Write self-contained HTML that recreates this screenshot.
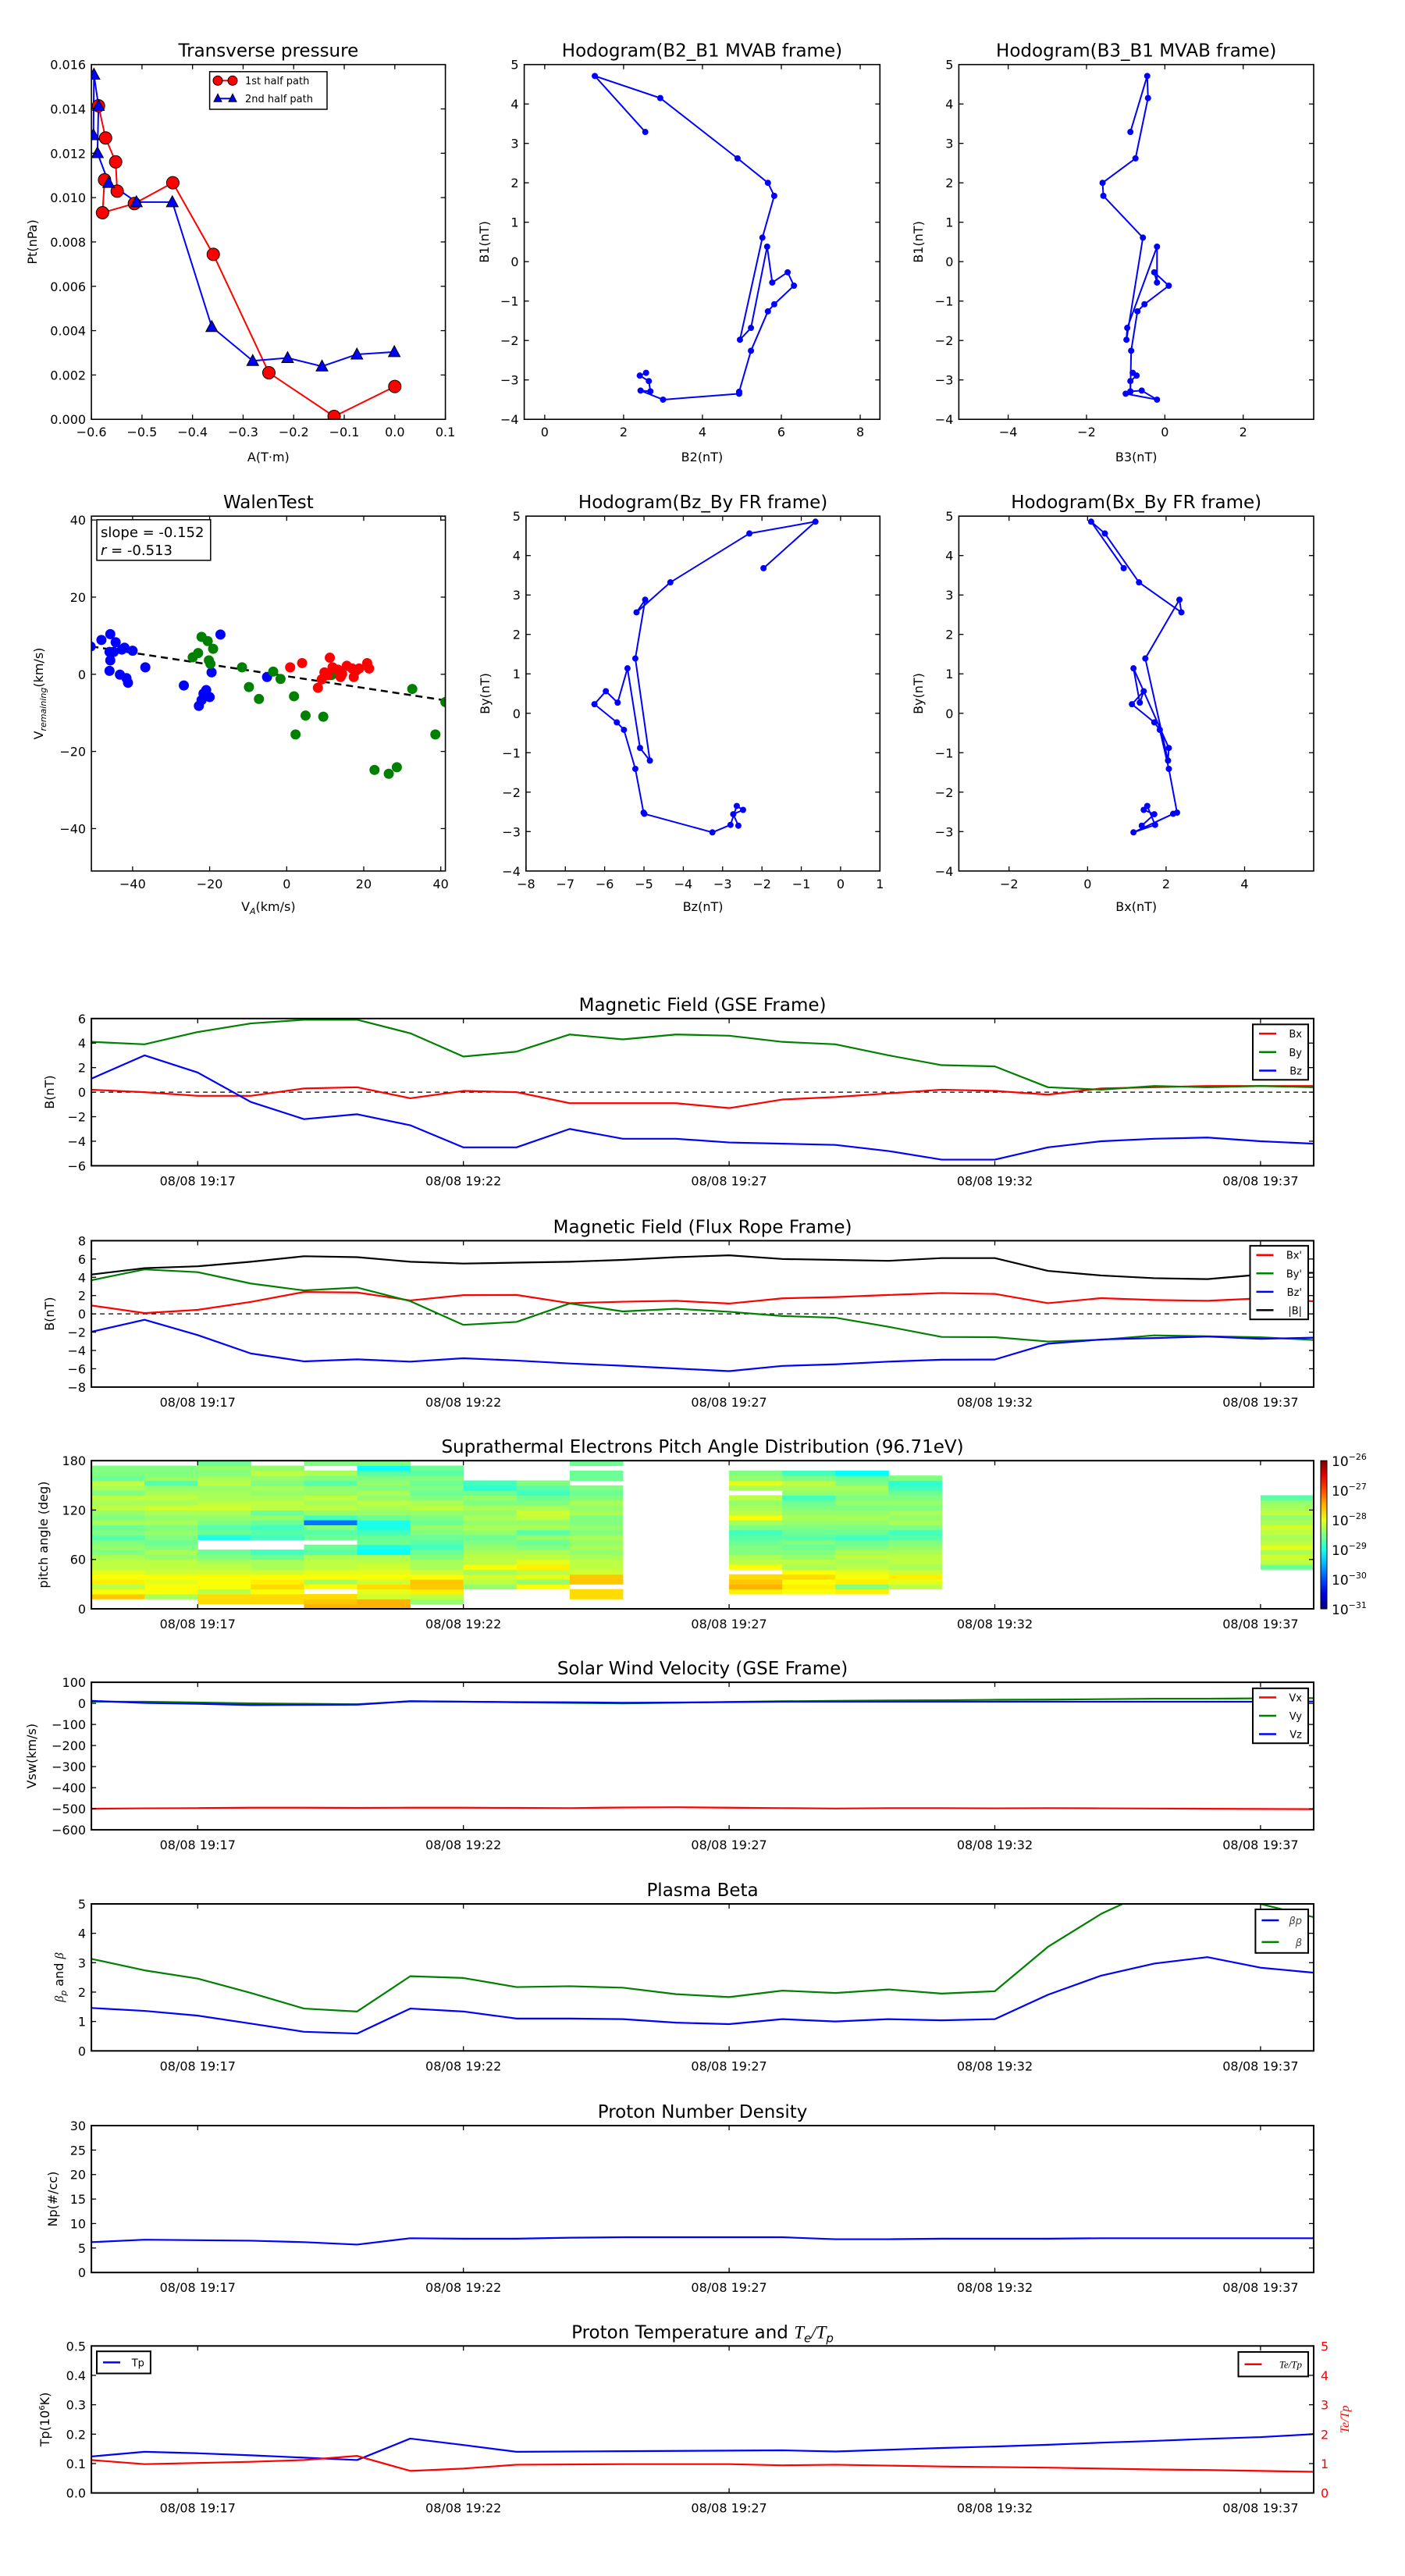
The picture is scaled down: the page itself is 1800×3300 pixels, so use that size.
<!DOCTYPE html>
<html><head><meta charset="utf-8">
<style>
html,body{margin:0;padding:0;background:#fff;}
svg{display:block;font-family:"DejaVu Sans","Liberation Sans",sans-serif;}
</style></head>
<body>
<svg id="chart" xmlns="http://www.w3.org/2000/svg" width="1800" height="3300" viewBox="0 0 1800 3300">
<rect x="0" y="0" width="1800" height="3300" fill="#fff"/>
</svg>
<script>
// ---------- DATA ----------
const tpA1 = [-0.586,-0.572,-0.552,-0.549,-0.574,-0.578,-0.515,-0.439,-0.359,-0.249,-0.120,0.0];
const tpP1 = [0.01414,0.01269,0.01161,0.01029,0.01080,0.00932,0.00973,0.01067,0.00744,0.00210,0.00013,0.00148];
const tpA2 = [-0.596,-0.595,-0.586,-0.588,-0.566,-0.511,-0.440,-0.362,-0.281,-0.212,-0.144,-0.075,-0.001];
const tpP2 = [0.01282,0.01555,0.01414,0.01201,0.01067,0.00980,0.00980,0.00417,0.00264,0.00277,0.00239,0.00293,0.00304];
const mvB2 = [2.55,1.27,2.93,4.89,5.66,5.82,5.52,4.95,5.23,5.64,5.77,6.16,6.32,5.82,5.66,5.23,4.93,4.93,3.0,2.43,2.68,2.64,2.41,2.57];
const mvB1 = [3.29,4.71,4.15,2.62,2.0,1.67,0.61,-1.98,-1.68,0.38,-0.53,-0.27,-0.61,-1.08,-1.26,-2.26,-3.30,-3.35,-3.5,-3.27,-3.29,-3.03,-2.89,-2.82];
const mvB3 = [-0.88,-0.45,-0.43,-0.75,-1.59,-1.57,-0.56,-0.98,-0.96,-0.2,-0.2,-0.27,0.1,-0.52,-0.7,-0.86,-0.88,-1.0,-0.2,-0.59,-0.88,-0.88,-0.72,-0.82];
const wBlueX = [-50.9,-48.1,-45.8,-44.4,-46.0,-44.9,-45.8,-42.8,-42.1,-40.0,-46.0,-43.3,-41.6,-41.2,-36.7,-26.7,-22.8,-22.1,-21.6,-20.9,-20.0,-19.5,-17.2,-5.1];
const wBlueY = [7.2,8.9,10.4,8.3,5.8,5.8,3.6,6.4,6.9,6.1,0.9,-0.1,-1.0,-2.2,1.8,-2.9,-8.2,-6.7,-5.0,-4.1,-5.9,0.5,10.3,-0.7];
const wGreenX = [-24.4,-23.0,-22.1,-20.5,-19.1,-20.2,-19.8,-11.6,-9.8,-7.2,-3.5,-1.6,1.9,2.3,4.9,9.5,11.6,12.1,22.8,26.5,28.6,32.6,38.6,41.2];
const wGreenY = [4.4,5.5,9.7,8.6,6.6,3.6,2.7,1.8,-3.3,-6.4,0.7,-1.2,-5.7,-15.6,-10.7,-11.0,-0.2,0.1,-24.8,-25.8,-24.1,-3.8,-15.6,-7.2];
const wRedX = [0.9,4.0,8.1,9.1,9.8,10.7,11.2,11.9,13.3,14.0,14.4,15.6,17.0,17.4,18.1,18.8,20.9,21.4];
const wRedY = [1.8,2.9,-3.5,-1.3,0.5,-0.2,4.3,1.8,1.2,-0.7,0.1,2.2,1.5,-0.7,1.0,1.5,2.9,1.5];
const walenSlope = -0.152;
const walenIntercept = -0.5;
const minutes = [0,1,2,3,4,5,6,7,8,9,10,11,12,13,14,15,16,17,18,19,20,21,22,23];
const timeTicks = [2,7,12,17,22];
const timeLabels = ["08/08 19:17","08/08 19:22","08/08 19:27","08/08 19:32","08/08 19:37"];
const gseBx = [0.2,0,-0.3,-0.3,0.3,0.4,-0.5,0.1,0,-0.9,-0.9,-0.9,-1.3,-0.6,-0.4,-0.1,0.2,0.1,-0.2,0.3,0.4,0.5,0.5,0.5];
const gseBy = [4.1,3.9,4.9,5.6,5.9,5.9,4.8,2.9,3.3,4.7,4.3,4.7,4.6,4.1,3.9,3.0,2.2,2.1,0.4,0.2,0.5,0.4,0.5,0.4];
const gseBz = [1.1,3.0,1.6,-0.8,-2.2,-1.8,-2.7,-4.5,-4.5,-3.0,-3.8,-3.8,-4.1,-4.2,-4.3,-4.8,-5.5,-5.5,-4.5,-4.0,-3.8,-3.7,-4.0,-4.2];
const frBx = [0.92,0.09,0.44,1.31,2.39,2.34,1.47,2.05,2.07,1.17,1.33,1.43,1.13,1.70,1.84,2.07,2.28,2.18,1.17,1.72,1.52,1.43,1.70,1.38];
const frBy = [3.68,4.86,4.56,3.32,2.56,2.88,1.39,-1.20,-0.88,1.14,0.27,0.56,0.23,-0.23,-0.42,-1.41,-2.52,-2.55,-3.02,-2.83,-2.35,-2.45,-2.56,-2.85];
const frBz = [-1.96,-0.64,-2.32,-4.33,-5.19,-4.97,-5.22,-4.85,-5.10,-5.42,-5.67,-5.97,-6.26,-5.69,-5.51,-5.22,-5.01,-4.99,-3.26,-2.80,-2.64,-2.48,-2.73,-2.60];
const frBt = [4.3,5.0,5.2,5.7,6.3,6.2,5.7,5.5,5.6,5.7,5.9,6.2,6.4,6.0,5.9,5.8,6.1,6.1,4.7,4.2,3.9,3.8,4.3,4.5];
const padTimes = [0,1,2,3,4,5,6,7,8,9,12,13,14,15,22];
const padCol0 = [null,null,-27.6,-27.9,-28.2,-27.8,-27.9,-28.0,-28.2,-28.2,-28.3,-28.5,-28.4,-28.5,-28.7,-28.5,-28.6,-28.3,-28.5,-28.4,-28.2,-28.3,-28.2,-28.5,-28.3,-28.2,-28.6,-28.5,-28.5,null];
const padCol1 = [null,null,-28.3,-27.9,-27.9,-28.0,-27.9,-28.1,-28.2,-28.2,-28.4,-28.3,-28.5,-28.6,-28.5,-28.4,-28.5,-28.3,-28.4,-28.3,-28.1,-28.3,-28.2,-28.3,-28.4,-28.7,-28.4,-28.5,-28.5,null];
const padCol2 = [null,-27.7,-27.7,-28.2,-27.9,-27.9,-27.9,-28.1,-28.2,-28.3,-28.5,-28.6,null,null,-29.0,-28.6,-28.7,-28.5,-28.4,-28.3,-28.1,-28.2,-28.3,-28.3,-28.4,-28.2,-28.3,-28.5,-28.4,-28.6];
const padCol3 = [null,-27.7,-27.7,-27.9,-27.7,-27.8,-27.9,-28.1,-28.3,-28.3,-28.6,-28.8,null,null,-28.8,-28.7,-28.8,-28.6,-28.4,-28.6,-28.2,-28.2,-28.3,-28.4,-28.3,-28.5,-28.4,-28.2,-28.4,null];
const padCol4 = [-27.5,-27.6,-27.7,null,-27.9,-28.3,-27.9,-28.0,-28.2,-28.2,-28.3,-28.7,-28.6,null,-28.6,-28.7,-28.5,-29.8,-28.8,-28.4,-28.2,-28.3,-28.2,-28.4,-28.4,-28.7,-28.5,-28.3,null,-28.5];
const padCol5 = [-27.5,-27.5,-28.1,-28.0,-27.7,-28.1,-27.9,-28.0,-28.1,-28.2,-28.3,-29.1,-29.0,-28.6,-28.6,-28.8,-29.0,-29.0,-28.6,-28.4,-28.3,-28.2,-28.4,-28.3,-28.5,-28.4,-28.5,-28.7,-29.1,-28.5];
const padCol6 = [null,-28.4,-28.2,-27.8,-27.6,-27.6,-27.9,-28.1,-28.3,-28.3,-28.5,-28.6,-28.8,-28.7,-28.6,-28.5,-28.4,-28.6,-28.5,-28.4,-28.2,-28.3,-28.5,-28.6,-28.5,-28.6,-28.5,-28.7,-28.6,null];
const padCol7 = [null,null,null,null,-28.4,-28.2,-28.1,-28.3,-27.9,-28.2,-28.2,-28.3,-28.4,-28.5,-28.6,-28.4,-28.3,-28.4,-28.3,-28.4,-28.3,-28.5,-28.4,-28.6,-28.9,-28.8,null,null,null,null];
const padCol8 = [null,null,null,null,-27.9,-28.4,-28.0,-28.2,-27.8,-28.0,-28.2,-28.3,-28.5,-28.6,-28.4,-28.7,-28.3,-28.4,-28.2,-28.1,-28.3,-28.5,-28.6,-28.8,-28.7,-28.5,null,null,null,null];
const padCol9 = [null,null,-27.7,-27.7,null,-27.6,-27.6,-28.1,-28.2,-28.2,-28.3,-28.4,-28.3,-28.4,-28.3,-28.5,-28.4,-28.5,-28.5,-28.3,-28.4,-28.3,-28.5,-28.6,-28.5,null,-28.6,-28.6,null,-28.6];
const padCol12 = [null,null,null,-27.8,-27.5,-27.6,-27.7,null,-27.9,-28.2,-28.3,-28.5,-28.5,-28.6,-28.7,-28.8,-28.5,-28.3,-27.9,-28.2,-28.3,-28.4,-28.2,null,-28.3,-28.0,-28.4,-28.5,null,null];
const padCol13 = [null,null,null,-27.9,-27.8,-27.9,-27.7,-27.9,-28.3,-28.2,-28.4,-28.5,-28.6,-28.5,-28.7,-28.6,-28.5,-28.4,-28.3,-28.4,-28.5,-28.6,-28.8,-28.4,-28.3,-28.2,-28.5,-28.8,null,null];
const padCol14 = [null,null,null,-27.8,-28.5,-27.8,-27.9,-28.0,-28.2,-28.3,-28.2,-28.3,-28.5,-28.6,-28.8,-28.6,-28.5,-28.4,-28.3,-28.4,-28.5,-28.4,-28.5,-28.4,-28.3,-28.5,-28.6,-29.1,null,null];
const padCol15 = [null,null,null,null,-28.2,-28.0,-27.8,-28.1,-28.3,-28.2,-28.2,-28.3,-28.4,-28.5,-28.7,-28.8,-28.5,-28.3,-28.4,-28.3,-28.5,-28.4,-28.5,-28.6,-28.8,-28.9,-28.5,null,null,null];
const padCol22 = [null,null,null,null,null,null,null,null,-28.6,-28.2,-28.1,-28.3,-28.0,-28.2,-28.3,-28.2,-28.1,-28.3,-28.4,-28.2,-28.3,-28.4,-28.7,null,null,null,null,null,null,null];
const padCols = [padCol0,padCol1,padCol2,padCol3,padCol4,padCol5,padCol6,padCol7,padCol8,padCol9,padCol12,padCol13,padCol14,padCol15,padCol22];
const vx = [-500,-498,-497,-495,-495,-496,-495,-495,-496,-497,-494,-493,-495,-497,-499,-497,-497,-498,-497,-498,-499,-500,-501,-502];
const vy = [8,8,4,0,-2,-4,10,8,5,2,0,3,7,10,12,14,15,17,18,20,22,22,24,25];
const vz = [12,2,-2,-8,-7,-6,10,8,6,5,3,4,6,8,8,8,8,8,8,8,8,8,8,9];
const betaP = [1.46,1.36,1.2,0.93,0.65,0.59,1.44,1.34,1.1,1.1,1.08,0.96,0.91,1.08,1.0,1.08,1.04,1.08,1.91,2.56,2.97,3.19,2.83,2.66];
const betaT = [3.13,2.74,2.46,1.97,1.44,1.34,2.54,2.48,2.17,2.2,2.15,1.93,1.83,2.05,1.97,2.09,1.95,2.03,3.54,4.66,5.5,5.8,5.0,4.55];
const np = [6.2,6.7,6.6,6.5,6.2,5.7,7.0,6.9,6.9,7.1,7.2,7.2,7.2,7.2,6.8,6.8,6.9,6.9,6.9,7.0,7.0,7.0,7.0,7.0];
const tp = [0.124,0.14,0.135,0.128,0.12,0.112,0.185,0.163,0.14,0.141,0.142,0.143,0.144,0.145,0.141,0.147,0.153,0.158,0.164,0.171,0.177,0.184,0.19,0.2];
const teTp = [1.12,0.98,1.02,1.06,1.12,1.26,0.75,0.83,0.96,0.97,0.98,0.98,0.98,0.94,0.96,0.93,0.90,0.88,0.86,0.83,0.80,0.78,0.75,0.72];

// ---------- HELPERS ----------
const NS='http://www.w3.org/2000/svg';
const svg=document.getElementById('chart');
let clipId=0;
function mk(tag, attrs, name, parent){
  const el=document.createElementNS(NS,tag);
  for(const k in attrs) el.setAttribute(k,attrs[k]);
  
  
  (parent||svg).appendChild(el);
  return el;
}
function txt(x,y,s,size,anchor,name,extra,parent){
  const a=Object.assign({x:x,y:y,'font-size':size,'text-anchor':anchor||'middle',fill:'#000'},extra||{});
  const t=mk('text',a,name,parent);
  t.textContent=s;
  return t;
}
function fmtMinus(v,d){ const s=v.toFixed(d); return s.replace('-','\u2212'); }
function axes(o){
  const g=mk('g',{},o.name);
  const sx=v=>o.x0+(v-o.xmin)/(o.xmax-o.xmin)*(o.x1-o.x0);
  const sy=v=>o.y1-(v-o.ymin)/(o.ymax-o.ymin)*(o.y1-o.y0);
  const cid='clip'+(clipId++);
  const cp=mk('clipPath',{id:cid},'clip-region',g);
  mk('rect',{x:o.x0,y:o.y0,width:o.x1-o.x0,height:o.y1-o.y0},'clip-rect',cp);
  const plot=mk('g',{'clip-path':'url(#'+cid+')'},'plot-area',g);
  const front=mk('g',{},'axis-decor',g);
  const tl=6;
  (o.xticks||[]).forEach((v,i)=>{
    const x=sx(v);
    mk('line',{x1:x,x2:x,y1:o.y1,y2:o.y1-tl,stroke:'#000','stroke-width':1.3},'x-tick',front);
    mk('line',{x1:x,x2:x,y1:o.y0,y2:o.y0+tl,stroke:'#000','stroke-width':1.3},'x-tick-top',front);
    const lab=o.xlabels?o.xlabels[i]:fmtMinus(v,o.xd||0);
    txt(x,o.y1+(o.xlabOff||22),lab,o.tfs||16,'middle','x-tick-label',null,front);
  });
  (o.yticks||[]).forEach(v=>{
    const y=sy(v);
    mk('line',{x1:o.x0,x2:o.x0+tl,y1:y,y2:y,stroke:'#000','stroke-width':1.3},'y-tick',front);
    mk('line',{x1:o.x1,x2:o.x1-tl,y1:y,y2:y,stroke:'#000','stroke-width':1.3},'y-tick-right',front);
    txt(o.x0-7,y+6,fmtMinus(v,o.yd||0),o.tfs||16,'end','y-tick-label',null,front);
  });
  mk('rect',{x:o.x0,y:o.y0,width:o.x1-o.x0,height:o.y1-o.y0,fill:'none',stroke:'#000','stroke-width':o.sw||1.6},'axes-frame',front);
  if(o.title) txt((o.x0+o.x1)/2,o.y0-10,o.title,23,'middle','chart-title',null,front);
  if(o.xlabel) txt((o.x0+o.x1)/2,o.xlabY,o.xlabel,16,'middle','x-axis-title',null,front);
  if(o.ylabel) txt(o.ylabX,(o.y0+o.y1)/2,o.ylabel,16,'middle','y-axis-title',{transform:'rotate(-90 '+o.ylabX+' '+((o.y0+o.y1)/2)+')'},front);
  return {sx,sy,plot,front,g};
}
function polyline(ax,xs,ys,color,w,name){
  const pts=xs.map((x,i)=>ax.sx(x).toFixed(2)+','+ax.sy(ys[i]).toFixed(2)).join(' ');
  return mk('polyline',{points:pts,fill:'none',stroke:color,'stroke-width':w,'stroke-linejoin':'round'},name,ax.plot);
}
function dots(ax,xs,ys,color,r,name,stroke){
  xs.forEach((x,i)=>{
    mk('circle',{cx:ax.sx(x),cy:ax.sy(ys[i]),r:r,fill:color,stroke:stroke||'none','stroke-width':1},name,ax.plot);
  });
}
function legend(x,y,w,h,entries,name,fs,extraTxt){
  const g=mk('g',{},name);
  mk('rect',{x:x,y:y,width:w,height:h,fill:'#fff',stroke:'#000','stroke-width':2},'legend-box',g);
  const step=h/entries.length;
  entries.forEach((e,i)=>{
    const cy=y+step*(i+0.5);
    mk('line',{x1:x+8,x2:x+30,y1:cy,y2:cy,stroke:e.color,'stroke-width':2.5},'legend-swatch',g);
    txt(x+w-8,cy+5,e.label,fs||13,'end','legend-entry',Object.assign({'font-style':e.italic?'italic':'normal'},extraTxt||{}),g);
  });
  return g;
}
function jet(v){
  const x=Math.max(0,Math.min(1,(v+31)/5));
  const c=q=>Math.round(255*Math.max(0,Math.min(1,q)));
  return 'rgb('+c(1.5-Math.abs(4*x-3))+','+c(1.5-Math.abs(4*x-2))+','+c(1.5-Math.abs(4*x-1))+')';
}

// ---------- TOP ROW ----------
const yR1a=82.7, yR1b=537.2, yR2a=661.2, yR2b=1115.8;
const C1a=117.1, C1b=570.6, C2a=671.6, C2b=1127.3, C3a=1228.4, C3b=1683;
const pAx=axes({name:'transverse-pressure-panel',x0:C1a,x1:C1b,y0:yR1a,y1:yR1b,xmin:-0.6,xmax:0.1,ymin:0,ymax:0.016,
  xticks:[-0.6,-0.5,-0.4,-0.3,-0.2,-0.1,0.0,0.1],xd:1,yticks:[0,0.002,0.004,0.006,0.008,0.010,0.012,0.014,0.016],yd:3,
  title:'Transverse pressure',xlabel:'A(T\u00b7m)',xlabY:591,ylabel:'Pt(nPa)',ylabX:47});
polyline(pAx,tpA1,tpP1,'#f00',2,'first-half-line');
polyline(pAx,tpA2,tpP2,'#00f',2,'second-half-line');
tpA1.forEach((a,i)=>{
  mk('circle',{cx:pAx.sx(a),cy:pAx.sy(tpP1[i]),r:8,fill:'#f00',stroke:'#000','stroke-width':1},'first-half-marker',pAx.plot);
});
tpA2.forEach((a,i)=>{
  const cx=pAx.sx(a), cy=pAx.sy(tpP2[i]);
  mk('polygon',{points:(cx)+','+(cy-8)+' '+(cx-7.5)+','+(cy+6)+' '+(cx+7.5)+','+(cy+6),fill:'#00f',stroke:'#000','stroke-width':1},'second-half-marker',pAx.plot);
});
(function(){
  const g=mk('g',{},'pressure-legend');
  mk('rect',{x:268.6,y:91.8,width:150.4,height:48.2,fill:'#fff',stroke:'#000','stroke-width':1.5},'legend-box',g);
  mk('line',{x1:276,x2:300,y1:103.3,y2:103.3,stroke:'#f00','stroke-width':2},'legend-swatch',g);
  mk('circle',{cx:279,cy:103.3,r:6,fill:'#f00',stroke:'#000'},'legend-marker',g);
  mk('circle',{cx:298,cy:103.3,r:6,fill:'#f00',stroke:'#000'},'legend-marker',g);
  txt(314,108,'1st half path',13,'start','legend-entry',null,g);
  mk('line',{x1:276,x2:300,y1:126.3,y2:126.3,stroke:'#00f','stroke-width':2},'legend-swatch',g);
  mk('polygon',{points:'279,120.3 274,130.3 284,130.3',fill:'#00f',stroke:'#000'},'legend-marker',g);
  mk('polygon',{points:'298,120.3 293,130.3 303,130.3',fill:'#00f',stroke:'#000'},'legend-marker',g);
  txt(314,131,'2nd half path',13,'start','legend-entry',null,g);
})();

const h2=axes({name:'hodogram-b2-b1-panel',x0:C2a,x1:C2b,y0:yR1a,y1:yR1b,xmin:-0.52,xmax:8.5,ymin:-4,ymax:5,
  xticks:[0,2,4,6,8],yticks:[-4,-3,-2,-1,0,1,2,3,4,5],title:'Hodogram(B2_B1 MVAB frame)',xlabel:'B2(nT)',xlabY:591,ylabel:'B1(nT)',ylabX:626});
polyline(h2,mvB2,mvB1,'#00f',2,'hodogram-line');
dots(h2,mvB2,mvB1,'#00f',4,'hodogram-point');

const h3=axes({name:'hodogram-b3-b1-panel',x0:C3a,x1:C3b,y0:yR1a,y1:yR1b,xmin:-5.26,xmax:3.8,ymin:-4,ymax:5,
  xticks:[-4,-2,0,2],yticks:[-4,-3,-2,-1,0,1,2,3,4,5],title:'Hodogram(B3_B1 MVAB frame)',xlabel:'B3(nT)',xlabY:591,ylabel:'B1(nT)',ylabX:1182});
polyline(h3,mvB3,mvB1,'#00f',2,'hodogram-line');
dots(h3,mvB3,mvB1,'#00f',4,'hodogram-point');

// ---------- SECOND ROW ----------
const wAx=axes({name:'walen-test-panel',x0:C1a,x1:C1b,y0:yR2a,y1:yR2b,xmin:-50.7,xmax:41.2,ymin:-51,ymax:41,
  xticks:[-40,-20,0,20,40],yticks:[-40,-20,0,20,40],title:'WalenTest',ylabX:55});
{
  const t=txt((C1a+C1b)/2,1167,'V',16,'middle','x-axis-title',null,wAx.front);
  const s=document.createElementNS(NS,'tspan'); s.setAttribute('font-size','11'); s.setAttribute('font-style','italic'); s.setAttribute('dy','4'); s.textContent='A';
  t.appendChild(s);
  const s2=document.createElementNS(NS,'tspan'); s2.setAttribute('dy','-4'); s2.textContent='(km/s)';
  t.appendChild(s2);
  const cy=(yR2a+yR2b)/2;
  const yl=txt(55,cy,'V',16,'middle','y-axis-title',{transform:'rotate(-90 55 '+cy+')'},wAx.front);
  const r1=document.createElementNS(NS,'tspan'); r1.setAttribute('font-size','11'); r1.setAttribute('font-style','italic'); r1.setAttribute('dy','4'); r1.textContent='remaining';
  yl.appendChild(r1);
  const r2=document.createElementNS(NS,'tspan'); r2.setAttribute('dy','-4'); r2.textContent='(km/s)';
  yl.appendChild(r2);
}
const fitX=[-50.7,41.2];
polyline(wAx,fitX,fitX.map(v=>walenSlope*v+walenIntercept),'#000',2.5,'fit-line').setAttribute('stroke-dasharray','9,6');
dots(wAx,wBlueX,wBlueY,'#00f',6.5,'walen-blue-point');
dots(wAx,wGreenX,wGreenY,'#008000',6.5,'walen-green-point');
dots(wAx,wRedX,wRedY,'#f00',6.5,'walen-red-point');
(function(){
  const g=mk('g',{},'walen-stats-box');
  mk('rect',{x:124,y:665.8,width:145.8,height:52,fill:'#fff',stroke:'#000','stroke-width':1.5},'stats-box',g);
  txt(129,688,'slope = -0.152',18,'start','slope-text',null,g);
  const t=txt(129,711,'',18,'start','r-text',null,g);
  const a=document.createElementNS(NS,'tspan'); a.setAttribute('font-style','italic'); a.textContent='r'; t.appendChild(a);
  const b=document.createElementNS(NS,'tspan'); b.textContent=' = -0.513'; t.appendChild(b);
})();

const h5=axes({name:'hodogram-bz-by-panel',x0:673.9,x1:C2b,y0:yR2a,y1:yR2b,xmin:-8,xmax:1,ymin:-4,ymax:5,
  xticks:[-8,-7,-6,-5,-4,-3,-2,-1,0,1],yticks:[-4,-3,-2,-1,0,1,2,3,4,5],title:'Hodogram(Bz_By FR frame)',xlabel:'Bz(nT)',xlabY:1167,ylabel:'By(nT)',ylabX:627});
polyline(h5,frBz,frBy,'#00f',2,'hodogram-line');
dots(h5,frBz,frBy,'#00f',4,'hodogram-point');

const h6=axes({name:'hodogram-bx-by-panel',x0:C3a,x1:C3b,y0:yR2a,y1:yR2b,xmin:-3.28,xmax:5.76,ymin:-4,ymax:5,
  xticks:[-2,0,2,4],yticks:[-4,-3,-2,-1,0,1,2,3,4,5],title:'Hodogram(Bx_By FR frame)',xlabel:'Bx(nT)',xlabY:1167,ylabel:'By(nT)',ylabX:1182});
polyline(h6,frBx,frBy,'#00f',2,'hodogram-line');
dots(h6,frBx,frBy,'#00f',4,'hodogram-point');

// ---------- TIME SERIES ----------
const TX0=117.1, TX1=1683;
function tAxes(name,y0,y1,ymin,ymax,yticks,yd,title,ylabel,ylabX){
  return axes({name:name,x0:TX0,x1:TX1,y0:y0,y1:y1,xmin:0,xmax:23,ymin:ymin,ymax:ymax,xticks:timeTicks,xlabels:timeLabels,
    yticks:yticks,yd:yd,title:title,ylabel:ylabel,ylabX:ylabX,xlabOff:25,sw:2});
}
function zeroLine(ax){
  mk('line',{x1:TX0,x2:TX1,y1:ax.sy(0),y2:ax.sy(0),stroke:'#000','stroke-width':1.3,'stroke-dasharray':'6,5'},'zero-line',ax.plot);
}
const gse=tAxes('gse-field-panel',1304.8,1493.4,-6,6,[-6,-4,-2,0,2,4,6],0,'Magnetic Field (GSE Frame)','B(nT)',69);
zeroLine(gse);
polyline(gse,minutes,gseBx,'#f00',2.2,'bx-line');
polyline(gse,minutes,gseBy,'#008000',2.2,'by-line');
polyline(gse,minutes,gseBz,'#00f',2.2,'bz-line');
legend(1605,1312.3,71,71,[{label:'Bx',color:'#f00'},{label:'By',color:'#008000'},{label:'Bz',color:'#00f'}],'gse-legend',13);

const fr=tAxes('flux-rope-field-panel',1589.4,1776.9,-8,8,[-8,-6,-4,-2,0,2,4,6,8],0,'Magnetic Field (Flux Rope Frame)','B(nT)',69);
zeroLine(fr);
polyline(fr,minutes,frBx,'#f00',2.2,'bx-prime-line');
polyline(fr,minutes,frBy,'#008000',2.2,'by-prime-line');
polyline(fr,minutes,frBz,'#00f',2.2,'bz-prime-line');
polyline(fr,minutes,frBt,'#000',2.2,'btotal-line');
legend(1601.5,1595.9,74.5,94.3,[{label:"Bx'",color:'#f00'},{label:"By'",color:'#008000'},{label:"Bz'",color:'#00f'},{label:'|B|',color:'#000'}],'flux-rope-legend',13);

const pad=tAxes('pitch-angle-panel',1871.2,2061,0,180,[0,60,120,180],0,'Suprathermal Electrons Pitch Angle Distribution (96.71eV)','pitch angle (deg)',61);
padTimes.forEach((t,ci)=>{
  padCols[ci].forEach((v,b)=>{
    if(v===null) return;
    const x0=pad.sx(t), x1=pad.sx(t+1), ya=pad.sy((b+1)*6), yb=pad.sy(b*6);
    mk('rect',{x:x0,y:ya,width:x1-x0+0.5,height:yb-ya+0.5,fill:jet(v)},'pad-cell',pad.plot);
  });
});
(function(){
  const g=mk('g',{},'colorbar');
  const defs=mk('defs',{},'colorbar-defs',g);
  const lg=mk('linearGradient',{id:'jetgrad',x1:0,y1:1,x2:0,y2:0},'colorbar-gradient',defs);
  for(let i=0;i<=10;i++){
    mk('stop',{offset:i/10,'stop-color':jet(-31+i*0.5)},'gradient-stop',lg);
  }
  mk('rect',{x:1692,y:1871.2,width:8,height:189.8,fill:'url(#jetgrad)',stroke:'#000','stroke-width':1},'colorbar-bar',g);
  const cbExp=[-26,-27,-28,-29,-30,-31];
  cbExp.forEach(e=>{
    const y=1871.2+(-26-e)/5*189.8;
    const t=txt(1706,y+7,'10',17,'start','colorbar-tick-label',null,g);
    const s=document.createElementNS(NS,'tspan'); s.setAttribute('font-size','11'); s.setAttribute('dy','-8'); s.textContent=String(e).replace('-','\u2212');
    t.appendChild(s);
  });
})();

const vsw=tAxes('solar-wind-velocity-panel',2155.1,2344.1,-600,100,[-600,-500,-400,-300,-200,-100,0,100],0,'Solar Wind Velocity (GSE Frame)','Vsw(km/s)',46);
polyline(vsw,minutes,vx,'#f00',2.2,'vx-line');
polyline(vsw,minutes,vy,'#008000',2.2,'vy-line');
polyline(vsw,minutes,vz,'#00f',2.2,'vz-line');
legend(1605,2162.8,71,70.4,[{label:'Vx',color:'#f00'},{label:'Vy',color:'#008000'},{label:'Vz',color:'#00f'}],'velocity-legend',13);

const beta=tAxes('plasma-beta-panel',2439,2627.3,0,5,[0,1,2,3,4,5],0,'Plasma Beta','',81);
{
  const cy=(2439+2627.3)/2;
  const yl=txt(81,cy,'',16,'middle','y-axis-title',{transform:'rotate(-90 81 '+cy+')'},beta.front);
  const a=document.createElementNS(NS,'tspan'); a.setAttribute('font-style','italic'); a.setAttribute('font-family','Liberation Serif, serif'); a.textContent='\u03b2'; yl.appendChild(a);
  const b=document.createElementNS(NS,'tspan'); b.setAttribute('font-size','11'); b.setAttribute('font-style','italic'); b.setAttribute('dy','4'); b.textContent='p'; yl.appendChild(b);
  const c=document.createElementNS(NS,'tspan'); c.setAttribute('dy','-4'); c.textContent=' and '; yl.appendChild(c);
  const d=document.createElementNS(NS,'tspan'); d.setAttribute('font-style','italic'); d.setAttribute('font-family','Liberation Serif, serif'); d.textContent='\u03b2'; yl.appendChild(d);
}
polyline(beta,minutes,betaP,'#00f',2.2,'beta-p-line');
polyline(beta,minutes,betaT,'#008000',2.2,'beta-line');
legend(1608.4,2446,67.6,55.8,[{label:'\u03b2p',color:'#00f',italic:true},{label:'\u03b2',color:'#008000',italic:true}],'beta-legend',13,{fill:'#444'});

const npAx=tAxes('proton-density-panel',2723,2911.2,0,30,[0,5,10,15,20,25,30],0,'Proton Number Density','Np(#/cc)',73);
polyline(npAx,minutes,np,'#00f',2.2,'density-line');

const TY0=3005.3, TY1=3193.6;
const tpAx=axes({name:'proton-temperature-panel',x0:TX0,x1:TX1,y0:TY0,y1:TY1,xmin:0,xmax:23,ymin:0,ymax:0.5,xticks:timeTicks,xlabels:timeLabels,
  yticks:[0,0.1,0.2,0.3,0.4,0.5],yd:1,title:'',xlabOff:25,sw:2});
{
  const t=txt((TX0+TX1)/2,TY0-10,'Proton Temperature and ',23,'middle','chart-title',null,tpAx.front);
  const a=document.createElementNS(NS,'tspan'); a.setAttribute('font-style','italic'); a.setAttribute('font-family','Liberation Serif, serif'); a.textContent='T'; t.appendChild(a);
  const b=document.createElementNS(NS,'tspan'); b.setAttribute('font-size','15'); b.setAttribute('font-style','italic'); b.setAttribute('dy','5'); b.textContent='e'; t.appendChild(b);
  const c=document.createElementNS(NS,'tspan'); c.setAttribute('dy','-5'); c.setAttribute('font-family','Liberation Serif, serif'); c.setAttribute('font-style','italic'); c.textContent='/T'; t.appendChild(c);
  const d=document.createElementNS(NS,'tspan'); d.setAttribute('font-size','15'); d.setAttribute('font-style','italic'); d.setAttribute('dy','5'); d.textContent='p'; t.appendChild(d);
  const cy=(TY0+TY1)/2;
  const yl=txt(63,cy,'Tp(10',16,'middle','y-axis-title',{transform:'rotate(-90 63 '+cy+')'},tpAx.front);
  const e=document.createElementNS(NS,'tspan'); e.setAttribute('font-size','10'); e.setAttribute('dy','-6'); e.textContent='6'; yl.appendChild(e);
  const f=document.createElementNS(NS,'tspan'); f.setAttribute('dy','6'); f.textContent='K)'; yl.appendChild(f);
  txt(1728,cy,'Te/Tp',16,'middle','right-y-axis-title',{fill:'#f00','font-style':'italic','font-family':'Liberation Serif, serif',transform:'rotate(-90 1728 '+cy+')'},tpAx.front);
}
const rightTicks=[0,1,2,3,4,5];
const syR=v=>TY1-v/5*(TY1-TY0);
rightTicks.forEach(v=>{
  txt(1692,syR(v)+6,String(v),16,'start','right-y-tick-label',{fill:'#f00'},tpAx.front);
});
polyline(tpAx,minutes,tp,'#00f',2.2,'tp-line');
polyline({sx:tpAx.sx,sy:v=>syR(v),plot:tpAx.plot},minutes,teTp,'#f00',2.2,'te-tp-line');
legend(124,3012.2,68.9,28.3,[{label:'Tp',color:'#00f'}],'tp-legend',13);
legend(1586.5,3013,89.5,31.4,[{label:'Te/Tp',color:'#f00',italic:true}],'te-tp-legend',13,{'font-family':'Liberation Serif, serif'});
</script>
</body></html>
